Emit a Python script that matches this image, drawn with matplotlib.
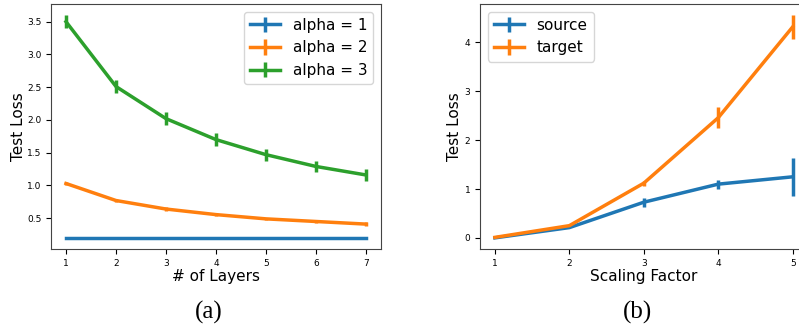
import matplotlib
matplotlib.use("Agg")
import matplotlib.pyplot as plt
import numpy as np

# Panel (a)
layers = [1, 2, 3, 4, 5, 6, 7]
alpha1 = [0.20, 0.20, 0.20, 0.20, 0.20, 0.20, 0.20]
alpha1_err = [0.0, 0.0, 0.0, 0.0, 0.0, 0.0, 0.0]
alpha2 = [1.03, 0.77, 0.64, 0.555, 0.49, 0.45, 0.41]
alpha2_err = [0.03, 0.025, 0.025, 0.02, 0.02, 0.02, 0.025]
alpha3 = [3.50, 2.51, 2.02, 1.70, 1.47, 1.29, 1.16]
alpha3_err = [0.10, 0.10, 0.10, 0.10, 0.09, 0.09, 0.09]
labels_a = ["alpha = 1", "alpha = 2", "alpha = 3"]

# Panel (b)
scaling = [1, 2, 3, 4, 5]
source = [0.0, 0.21, 0.73, 1.10, 1.25]
source_err = [0.0, 0.0, 0.09, 0.09, 0.39]
target = [0.01, 0.25, 1.12, 2.46, 4.32]
target_err = [0.0, 0.0, 0.05, 0.21, 0.24]
labels_b = ["source", "target"]

fig = plt.figure(figsize=(7.99, 3.29), dpi=100)
W, H = 799, 329
axa = fig.add_axes([51 / W, (H - 249) / H, 330 / W, 245 / H])
axb = fig.add_axes([480 / W, (H - 249) / H, 327.6 / W, 245 / H])

lw = 2.5
for y, e, lab in zip([alpha1, alpha2, alpha3], [alpha1_err, alpha2_err, alpha3_err], labels_a):
    axa.errorbar(layers, y, yerr=e, label=lab, linewidth=lw, elinewidth=lw, capsize=0)
axa.set_xlabel("# of Layers", fontsize=11, labelpad=1)
axa.set_ylabel("Test Loss", fontsize=11, labelpad=1)
axa.set_xticks(layers)
axa.set_yticks([0.5, 1.0, 1.5, 2.0, 2.5, 3.0, 3.5])
axa.tick_params(labelsize=6.5)
axa.legend(fontsize=11, loc="upper right", handlelength=2.0)

for y, e, lab in zip([source, target], [source_err, target_err], labels_b):
    axb.errorbar(scaling, y, yerr=e, label=lab, linewidth=lw, elinewidth=lw, capsize=0)
axb.set_xlabel("Scaling Factor", fontsize=11, labelpad=1)
axb.set_ylabel("Test Loss", fontsize=11, labelpad=2)
axb.set_xticks(scaling)
axb.set_yticks([0, 1, 2, 3, 4])
axb.tick_params(labelsize=6.5)
axb.legend(fontsize=11, loc="upper left", handlelength=2.0)

for ax in (axa, axb):
    for s in ax.spines.values():
        s.set_color("#444444")

fig.text(209 / W, 1 - 312 / H, "(a)", ha="center", va="center", fontsize=18, family="Liberation Serif")
fig.text(637 / W, 1 - 312 / H, "(b)", ha="center", va="center", fontsize=18, family="Liberation Serif")

fig.savefig("out.png", dpi=100)
